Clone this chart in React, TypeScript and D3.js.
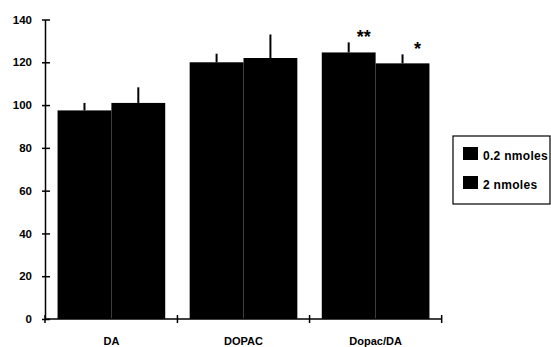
import React, { useRef, useEffect } from 'react';
import * as d3 from 'd3';

const categories = ['DA', 'DOPAC', 'Dopac/DA'];
const seriesNames = ['0.2 nmoles', '2 nmoles'];
const lowDose = [97.5, 120, 124.6];
const lowDoseErr = [3.5, 4, 4.7];
const highDose = [101, 122, 119.5];
const highDoseErr = [7.3, 11, 4.2];
const marks = ['', '', '', '', '**', '*'];
const yTicks = [0, 20, 40, 60, 80, 100, 120, 140];

const App = () => {
  const svgRef = useRef<SVGSVGElement>(null);
  useEffect(() => {
    const svg = d3.select(svgRef.current);
    svg.selectAll('*').remove();
    const font = '"Liberation Sans", Arial, sans-serif';

    const x = d3.scaleBand()
      .domain(categories)
      .range([45, 442])
      .paddingInner(0.185)
      .paddingOuter(0.095);
    const x1 = d3.scaleBand()
      .domain(seriesNames)
      .range([0, x.bandwidth()]);
    const y = d3.scaleLinear()
      .domain([0, 140])
      .range([319, 19.5]);

    const rows = categories.flatMap((c, i) => [
      { cat: c, s: seriesNames[0], v: lowDose[i], e: lowDoseErr[i] },
      { cat: c, s: seriesNames[1], v: highDose[i], e: highDoseErr[i] },
    ]);

    // bars
    svg.append('g')
      .selectAll('rect')
      .data(rows)
      .join('rect')
      .attr('x', d => x(d.cat) + x1(d.s))
      .attr('width', x1.bandwidth())
      .attr('y', d => y(d.v))
      .attr('height', d => y(0) - y(d.v))
      .attr('fill', '#000');

    // upward error bars
    svg.append('g')
      .selectAll('line')
      .data(rows)
      .join('line')
      .attr('x1', d => x(d.cat) + x1(d.s) + x1.bandwidth() / 2)
      .attr('x2', d => x(d.cat) + x1(d.s) + x1.bandwidth() / 2)
      .attr('y1', d => y(d.v))
      .attr('y2', d => y(d.v + d.e))
      .attr('stroke', '#000')
      .attr('stroke-width', 2);

    // significance marks
    svg.append('g')
      .selectAll('text')
      .data(rows)
      .join('text')
      .attr('x', d => x(d.cat) + x1(d.s) + x1.bandwidth() / 2 + 15)
      .attr('y', d => y(d.v + d.e) + 1)
      .attr('text-anchor', 'middle')
      .style('font-family', font)
      .style('font-weight', 'bold')
      .style('font-size', '18px')
      .text((d, i) => marks[i]);

    // y axis
    const yAxis = svg.append('g')
      .attr('transform', 'translate(45,0)')
      .call(d3.axisLeft(y).tickValues(yTicks).tickSize(4).tickSizeOuter(0).tickPadding(9));
    yAxis.select('.domain').attr('stroke', '#000').attr('stroke-width', 1.5);
    yAxis.selectAll('.tick line').attr('x1', -3).attr('x2', 5).attr('stroke-width', 1.5);
    yAxis.selectAll('text')
      .style('font-family', font)
      .style('font-weight', 'bold')
      .style('font-size', '11.5px')
      .attr('fill', '#000');

    // x axis with ticks between groups
    const [x0] = x.range();
    const gap = (x.step() - x.bandwidth()) / 2;
    const bounds = [x0, ...categories.map(c => x(c) + x.bandwidth() + gap)];
    const xAxis = svg.append('g');
    xAxis.append('line')
      .attr('x1', x0).attr('x2', bounds[bounds.length - 1])
      .attr('y1', y(0)).attr('y2', y(0))
      .attr('stroke', '#000').attr('stroke-width', 1.5);
    xAxis.selectAll('line.tk')
      .data(bounds)
      .join('line')
      .attr('class', 'tk')
      .attr('x1', d => d).attr('x2', d => d)
      .attr('y1', y(0) - 4).attr('y2', y(0) + 4)
      .attr('stroke', '#000').attr('stroke-width', 1.5);
    xAxis.selectAll('text')
      .data(categories)
      .join('text')
      .attr('x', d => x(d) + x.bandwidth() / 2)
      .attr('y', 345)
      .attr('text-anchor', 'middle')
      .style('font-family', font)
      .style('font-weight', 'bold')
      .style('font-size', '11px')
      .text(d => d);

    // legend
    const legend = svg.append('g').attr('transform', 'translate(453,136)');
    legend.append('rect')
      .attr('width', 97).attr('height', 68)
      .attr('fill', 'none').attr('stroke', '#000').attr('stroke-width', 1.2);
    legend.selectAll('rect.sw')
      .data(seriesNames)
      .join('rect')
      .attr('class', 'sw')
      .attr('x', 10).attr('y', (d, i) => 11 + i * 29)
      .attr('width', 15).attr('height', 13)
      .attr('fill', '#000');
    legend.selectAll('text')
      .data(seriesNames)
      .join('text')
      .attr('x', 30).attr('y', (d, i) => 24 + i * 29)
      .style('font-family', font)
      .style('font-weight', 'bold')
      .style('font-size', '12px')
      .style('letter-spacing', '0.3px')
      .text(d => d);
  }, []);
  return (
    <svg ref={svgRef} width={551} height={347}
      style={{ position: 'absolute', left: 0, top: 0, background: '#fff' }} />
  );
};

export default App;
